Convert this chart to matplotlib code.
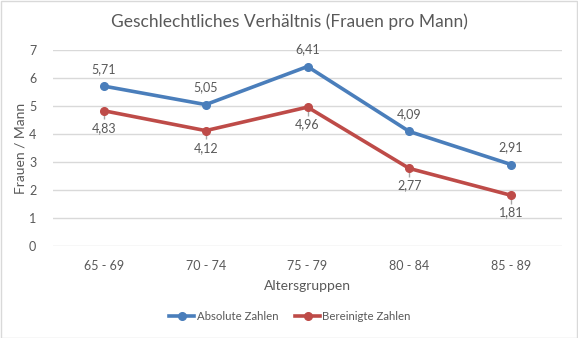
import matplotlib
matplotlib.use("Agg")
import matplotlib.pyplot as plt
from matplotlib.patches import Rectangle

categories = ["65 - 69", "70 - 74", "75 - 79", "80 - 84", "85 - 89"]
absolute = [5.71, 5.05, 6.41, 4.09, 2.91]
bereinigt = [4.83, 4.12, 4.96, 2.77, 1.81]
err_low = [0.3, 0.3, 0.3, 0.3, 0.3]
err_high = [0.1, 0.1, 0.1, 0.1, 0.1]
yticks = [0, 1, 2, 3, 4, 5, 6, 7]

plt.rcParams['font.family'] = ['Lato', 'DejaVu Sans']
gray = '#595959'

fig = plt.figure(figsize=(5.78, 3.38), dpi=100)
ax = fig.add_axes([53/578, 92/338, (562-53)/578, (246-50)/338])
x = list(range(len(categories)))

blue = '#4A7EBB'
red = '#BE4B48'
ax.errorbar(x, bereinigt, yerr=[err_low, err_high], fmt='none', ecolor='#A6A6A6', elinewidth=1, capsize=0, zorder=2)
ax.plot(x, absolute, color=blue, lw=2.6, marker='o', ms=5.5, label='Absolute Zahlen', zorder=3)
ax.plot(x, bereinigt, color=red, lw=2.6, marker='o', ms=5.5, label='Bereinigte Zahlen', zorder=3)

for xi, v in zip(x, absolute):
    ax.annotate(f"{v:.2f}".replace('.', ','), (xi, v), xytext=(0, 8), textcoords='offset points',
                ha='center', va='bottom', fontsize=9, color=gray)
for xi, v in zip(x, bereinigt):
    ax.annotate(f"{v:.2f}".replace('.', ','), (xi, v), xytext=(0, -8), textcoords='offset points',
                ha='center', va='top', fontsize=9, color=gray)

ax.set_xlim(-0.5, len(categories) - 0.5)
ax.set_ylim(0, 7)
ax.set_yticks(yticks)
ax.set_xticks(x)
ax.set_xticklabels(categories)
ax.tick_params(axis='both', length=0, colors=gray, labelsize=9)
ax.tick_params(axis='x', pad=10)
ax.tick_params(axis='y', pad=12)
ax.grid(axis='y', color='#D9D9D9', lw=1)
ax.set_axisbelow(True)
for s in ax.spines.values():
    s.set_visible(False)

ax.set_xlabel('Altersgruppen', fontsize=10, color=gray, labelpad=6)
ax.set_ylabel('Frauen / Mann', fontsize=10, color=gray)
ax.yaxis.set_label_coords((27 - 53) / 509, 0.5)
fig.text(289/578, 1 - 22/338, 'Geschlechtliches Verhältnis (Frauen pro Mann)', ha='center', va='center',
         fontsize=12.5, color=gray)

leg = ax.legend(loc='center', bbox_to_anchor=(290/578, 1 - 316/338), bbox_transform=fig.transFigure,
                ncol=2, frameon=False, fontsize=8.2, handlelength=2.2, columnspacing=1.5, handletextpad=0.2)
for t in leg.get_texts():
    t.set_color(gray)

fig.patches.append(Rectangle((0.5/578, 0.5/338), 1 - 1.5/578, 1 - 1.5/338, transform=fig.transFigure,
                             fill=False, edgecolor='#D9D9D9', lw=1))

fig.savefig('out.png', dpi=100, facecolor='white')
